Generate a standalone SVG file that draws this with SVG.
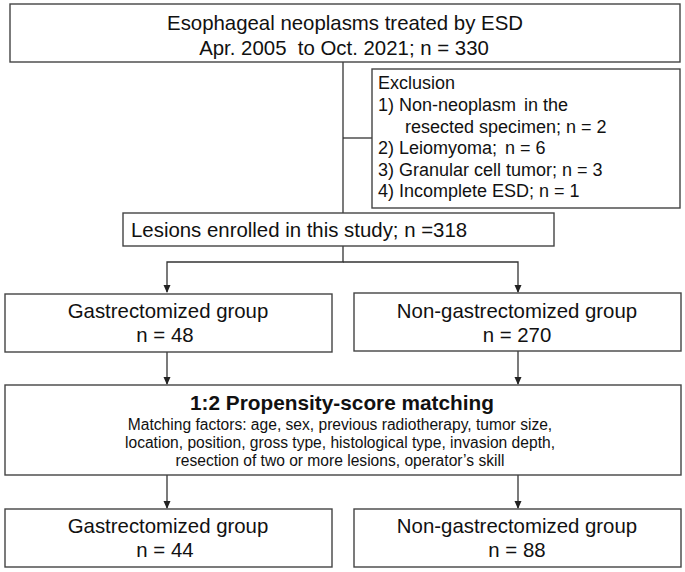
<svg xmlns="http://www.w3.org/2000/svg" width="685" height="572" viewBox="0 0 685 572">
<defs>
<style>
.box{fill:#fff;stroke:#444;stroke-width:1.4}
.t{font-family:"Liberation Sans",Arial,sans-serif;fill:#111}
.big{font-size:20.4px}
.mid{font-size:18px}
.sm{font-size:15.6px}
.b{font-weight:bold}
.c{text-anchor:middle}
.ln{fill:none;stroke:#333;stroke-width:1.3}
.ah{fill:#222}
</style>
</defs>
<rect width="685" height="572" fill="#fff"/>
<g id="connectors">
<path class="ln" d="M343,62 V213"/>
<path class="ln" d="M343,138 H372"/>
<path class="ln" d="M343,246 V262 H167 V292"/>
<path class="ln" d="M343,262 H518 V292"/>
<path class="ah" d="M163.5,285 L170.5,285 L167,293 Z"/>
<path class="ah" d="M514.5,285 L521.5,285 L518,293 Z"/>
<path class="ln" d="M167,352 V384"/>
<path class="ln" d="M518,351 V384"/>
<path class="ah" d="M163.5,377 L170.5,377 L167,385 Z"/>
<path class="ah" d="M514.5,377 L521.5,377 L518,385 Z"/>
<path class="ln" d="M167,475 V508"/>
<path class="ln" d="M518,475 V508"/>
<path class="ah" d="M163.5,501 L170.5,501 L167,509 Z"/>
<path class="ah" d="M514.5,501 L521.5,501 L518,509 Z"/>
</g>
<g id="top">
<rect class="box" x="10" y="4" width="670" height="58"/>
<text class="t big c" x="345" y="30">Esophageal neoplasms treated by ESD</text>
<text class="t big c" x="344" y="55" xml:space="preserve">Apr. 2005  to Oct. 2021; n = 330</text>
</g>
<g id="exclusion">
<rect class="box" x="372" y="69" width="308" height="139"/>
<text class="t mid" x="378" y="89">Exclusion</text>
<text class="t mid" x="378" y="111">1) Non-neoplasm<tspan dx="3"> in the</tspan></text>
<text class="t mid" x="405" y="133">resected specimen; n = 2</text>
<text class="t mid" x="378" y="154">2) Leiomyoma;<tspan dx="3"> n = 6</tspan></text>
<text class="t mid" x="378" y="176">3) Granular cell tumor; n = 3</text>
<text class="t mid" x="378" y="197">4) Incomplete ESD; n = 1</text>
</g>
<g id="enrolled">
<rect class="box" x="123" y="213" width="431" height="33"/>
<text class="t big" x="131" y="237">Lesions enrolled in this study; n =318</text>
</g>
<g id="gastr1">
<rect class="box" x="5" y="294" width="327" height="58"/>
<text class="t big c" x="168" y="318">Gastrectomized group</text>
<text class="t big c" x="165" y="342">n = 48</text>
</g>
<g id="nongastr1">
<rect class="box" x="354" y="293" width="327" height="58"/>
<text class="t big c" x="517" y="318">Non-gastrectomized group</text>
<text class="t big c" x="517" y="342">n = 270</text>
</g>
<g id="psm">
<rect class="box" x="5" y="385" width="676" height="90"/>
<text class="t big b c" x="342" y="410" style="font-size:20.8px">1:2 Propensity-score matching</text>
<text class="t sm c" x="340" y="430">Matching factors: age, sex, previous radiotherapy, tumor size,</text>
<text class="t sm c" x="340" y="448">location, position, gross type, histological type, invasion depth,</text>
<text class="t sm c" x="340" y="466">resection of two or more lesions, operator’s skill</text>
</g>
<g id="gastr2">
<rect class="box" x="5" y="509" width="327" height="58"/>
<text class="t big c" x="168" y="533">Gastrectomized group</text>
<text class="t big c" x="165" y="557">n = 44</text>
</g>
<g id="nongastr2">
<rect class="box" x="354" y="509" width="327" height="58"/>
<text class="t big c" x="517" y="533">Non-gastrectomized group</text>
<text class="t big c" x="517" y="557">n = 88</text>
</g>
</svg>
